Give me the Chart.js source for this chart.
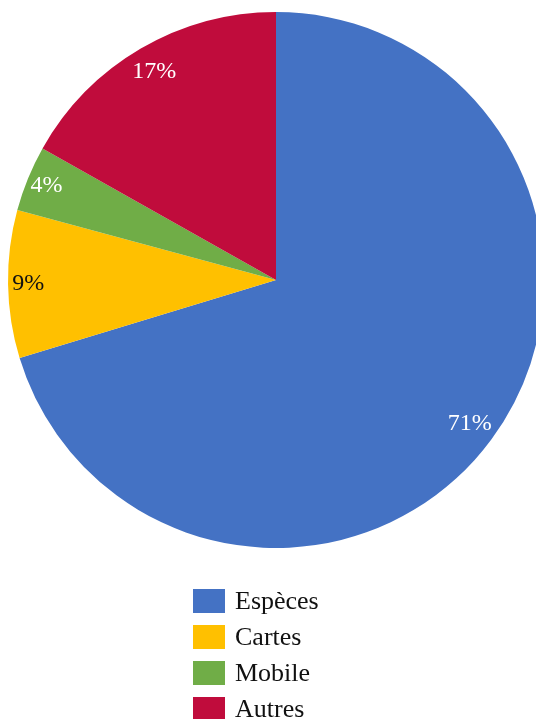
<!DOCTYPE html>
<html>
<head>
<meta charset="utf-8">
<script src="https://cdn.jsdelivr.net/npm/chart.js@4"></script>
<style>
  html, body { margin: 0; padding: 0; background: #fff; overflow: hidden; }
  #wrap { position: relative; width: 536px; height: 719px; overflow: hidden; }
  #pie { position: absolute; left: 0; top: 0; }
  #legend { position: absolute; left: 193px; top: 589px; font-family: "Liberation Serif", serif; font-size: 26px; color: #111; }
  .item { height: 36px; display: flex; align-items: flex-start; }
  .box { width: 32px; height: 24px; margin-right: 10px; }
  .item span { line-height: 24px; }
</style>
</head>
<body>
<div id="wrap">
  <canvas id="pie" width="552" height="719"></canvas>
  <div id="legend"></div>
</div>
<script>
// chart data
const labels = ["Espèces", "Cartes", "Mobile", "Autres"];
const values = [71, 9, 4, 17];
const colors = ["#4472C4", "#FFC000", "#70AD47", "#C00C3C"];
const labelColors = ["#ffffff", "#111111", "#ffffff", "#ffffff"];

// percentage labels inside the slices
const sliceLabels = {
    id: 'sliceLabels',
    afterDatasetsDraw(chart) {
        const ctx = chart.ctx;
        const meta = chart.getDatasetMeta(0);
        ctx.save();
        ctx.font = '24px "Liberation Serif", serif';
        ctx.textAlign = 'center';
        ctx.textBaseline = 'middle';
        meta.data.forEach((arc, i) => {
            const mid = (arc.startAngle + arc.endAngle) / 2;
            // small slices sit a bit closer to the rim
            const r = arc.outerRadius * (values[i] < 10 ? 0.925 : 0.9);
            ctx.fillStyle = labelColors[i];
            ctx.fillText(values[i] + '%', arc.x + Math.cos(mid) * r, arc.y + Math.sin(mid) * r);
        });
        ctx.restore();
    }
};

new Chart(document.getElementById('pie').getContext('2d'), {
    type: 'pie',
    data: {
        labels: labels,
        datasets: [{
            data: values,
            backgroundColor: colors,
            borderWidth: 0
        }]
    },
    options: {
        responsive: false,
        animation: false,
        layout: { padding: { left: 8, right: 8, top: 12, bottom: 171 } },
        plugins: {
            legend: { display: false },
            tooltip: { enabled: false }
        }
    },
    plugins: [sliceLabels]
});

// legend below the pie
const legend = document.getElementById('legend');
labels.forEach((label, i) => {
    const row = document.createElement('div');
    row.className = 'item';
    const box = document.createElement('div');
    box.className = 'box';
    box.style.background = colors[i];
    const text = document.createElement('span');
    text.textContent = label;
    row.appendChild(box);
    row.appendChild(text);
    legend.appendChild(row);
});
</script>
</body>
</html>
